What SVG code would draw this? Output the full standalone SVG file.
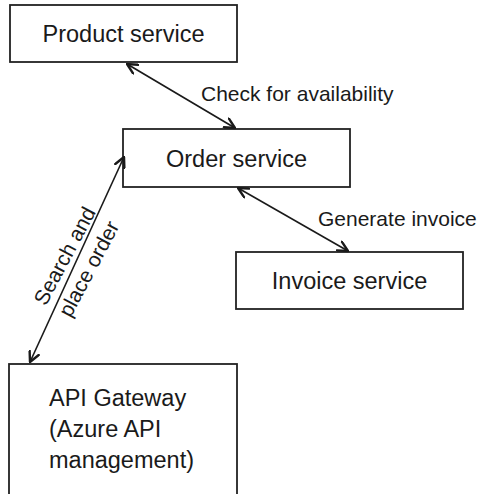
<svg xmlns="http://www.w3.org/2000/svg" width="479" height="494" viewBox="0 0 479 494">
<style>
.box{fill:#fff;stroke:#222;stroke-width:1.8}
.t{font-family:"Liberation Sans",Arial,sans-serif;fill:#1a1a1a}
.nt{font-size:23.5px;text-anchor:middle}
.lt{font-size:21px}
.c{stroke:#1a1a1a;stroke-width:1.6;fill:none;marker-start:url(#ah);marker-end:url(#ah)}
</style>
<defs>
<marker id="ah" viewBox="0 0 12 12" refX="11" refY="6" markerWidth="12" markerHeight="12" markerUnits="userSpaceOnUse" orient="auto-start-reverse">
<path d="M1,1 L11,6 L1,11" fill="none" stroke="#1a1a1a" stroke-width="2.4" stroke-linecap="round" stroke-linejoin="miter"/>
</marker>
</defs>
<rect width="479" height="494" fill="#fff"/>
<g id="product-service"><rect class="box" x="10" y="5" width="227" height="57"/><text class="t nt" x="123.5" y="42">Product service</text></g>
<g id="order-service"><rect class="box" x="123" y="129" width="227" height="58"/><text class="t nt" x="236.5" y="167">Order service</text></g>
<g id="invoice-service"><rect class="box" x="236" y="252" width="227" height="57"/><text class="t nt" x="349.5" y="289">Invoice service</text></g>
<g id="api-gateway"><rect class="box" x="9" y="364" width="228" height="150"/><text class="t" font-size="23.5" x="49" y="406">API Gateway</text><text class="t" font-size="23.5" x="49" y="437">(Azure API</text><text class="t" font-size="23.5" x="49" y="468">management)</text></g>
<g id="connectors">
<line class="c" x1="127" y1="64" x2="235" y2="128"/>
<line class="c" x1="238" y1="188" x2="348" y2="251"/>
<line class="c" x1="124" y1="157" x2="30" y2="362"/>
<text class="t lt" x="201" y="101">Check for availability</text>
<text class="t lt" x="318" y="226">Generate invoice</text>
<g transform="translate(76.7 262.3) rotate(-62)"><text class="t lt" text-anchor="middle" x="0" y="-6.5">Search and</text><text class="t lt" text-anchor="middle" x="0" y="21">place order</text></g>
</g>
</svg>
